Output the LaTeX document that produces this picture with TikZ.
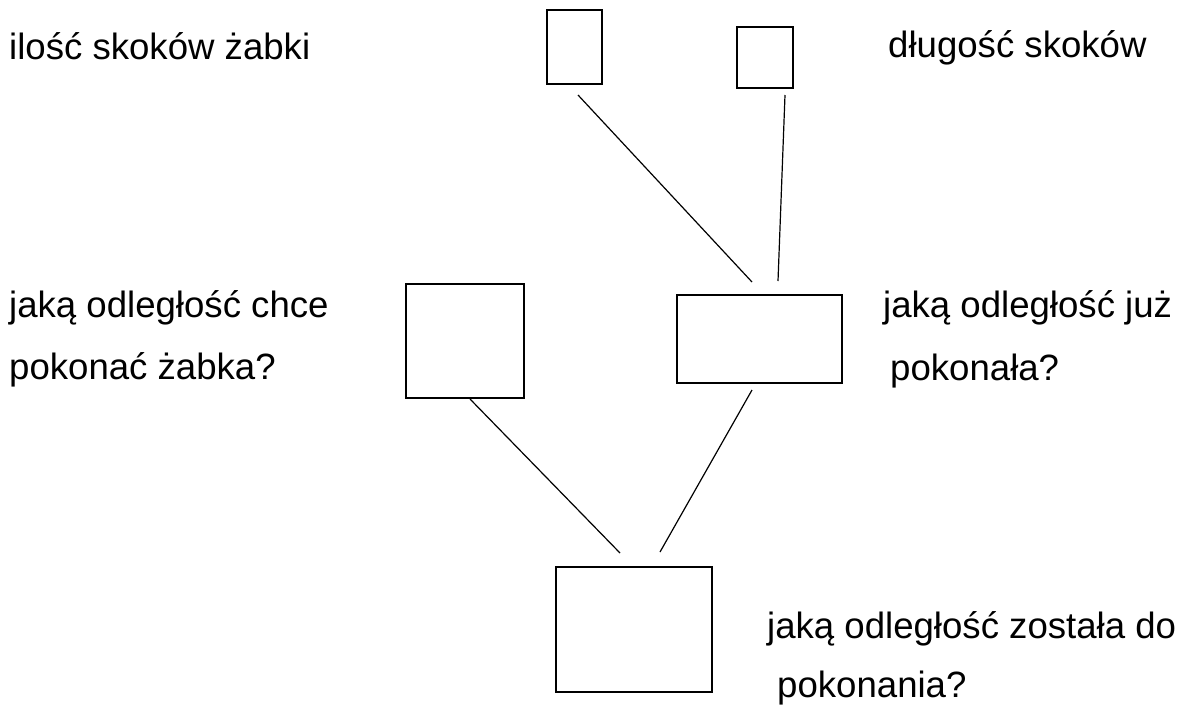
\documentclass[tikz,border=0pt]{standalone}
\usepackage{fontspec}
\setmainfont{Liberation Sans}
\begin{document}
\begin{tikzpicture}[x=1pt,y=-1pt,
  box/.style={draw,line width=1.2pt,inner sep=0pt,minimum width=#1},
  lbl/.style={anchor=base west,inner sep=0pt,font=\fontsize{36.6}{37}\selectfont},
  conn/.style={line width=1.2pt}]
\useasboundingbox (0,0) rectangle (1194,713);
% boxes
\node[box=55pt,minimum height=74pt] (A) at (574.5,47) {};
\node[box=56pt,minimum height=61pt] (B) at (765,57.5) {};
\node[box=118pt,minimum height=114pt] (C) at (465,341) {};
\node[box=165pt,minimum height=88pt] (D) at (759.5,339) {};
\node[box=156pt,minimum height=125pt] (E) at (634,629.5) {};
% connector ends
\coordinate (a1) at (578,95);
\coordinate (d1) at (752,282);
\coordinate (b1) at (785,95);
\coordinate (d2) at (778,281);
\coordinate (c1) at (470,399);
\coordinate (e1) at (620,553);
\coordinate (d3) at (752,390);
\coordinate (e2) at (660,552);
\draw[conn] (a1) -- (d1);
\draw[conn] (b1) -- (d2);
\draw[conn] (c1) -- (e1);
\draw[conn] (d3) -- (e2);
% labels
\node[lbl] (t1) at (9,59) {ilość skoków żabki};
\node[lbl] (t2) at (888,57) {długość skoków};
\node[lbl] (t3) at (9,317) {jaką odległość chce};
\node[lbl] (t4) at (9,379) {pokonać żabka?};
\node[lbl] (t5) at (883,317) {jaką odległość już};
\node[lbl] (t6) at (890,380) {pokonała?};
\node[lbl] (t7) at (767,638) {jaką odległość została do};
\node[lbl] (t8) at (777,697) {pokonania?};
\end{tikzpicture}
\end{document}
